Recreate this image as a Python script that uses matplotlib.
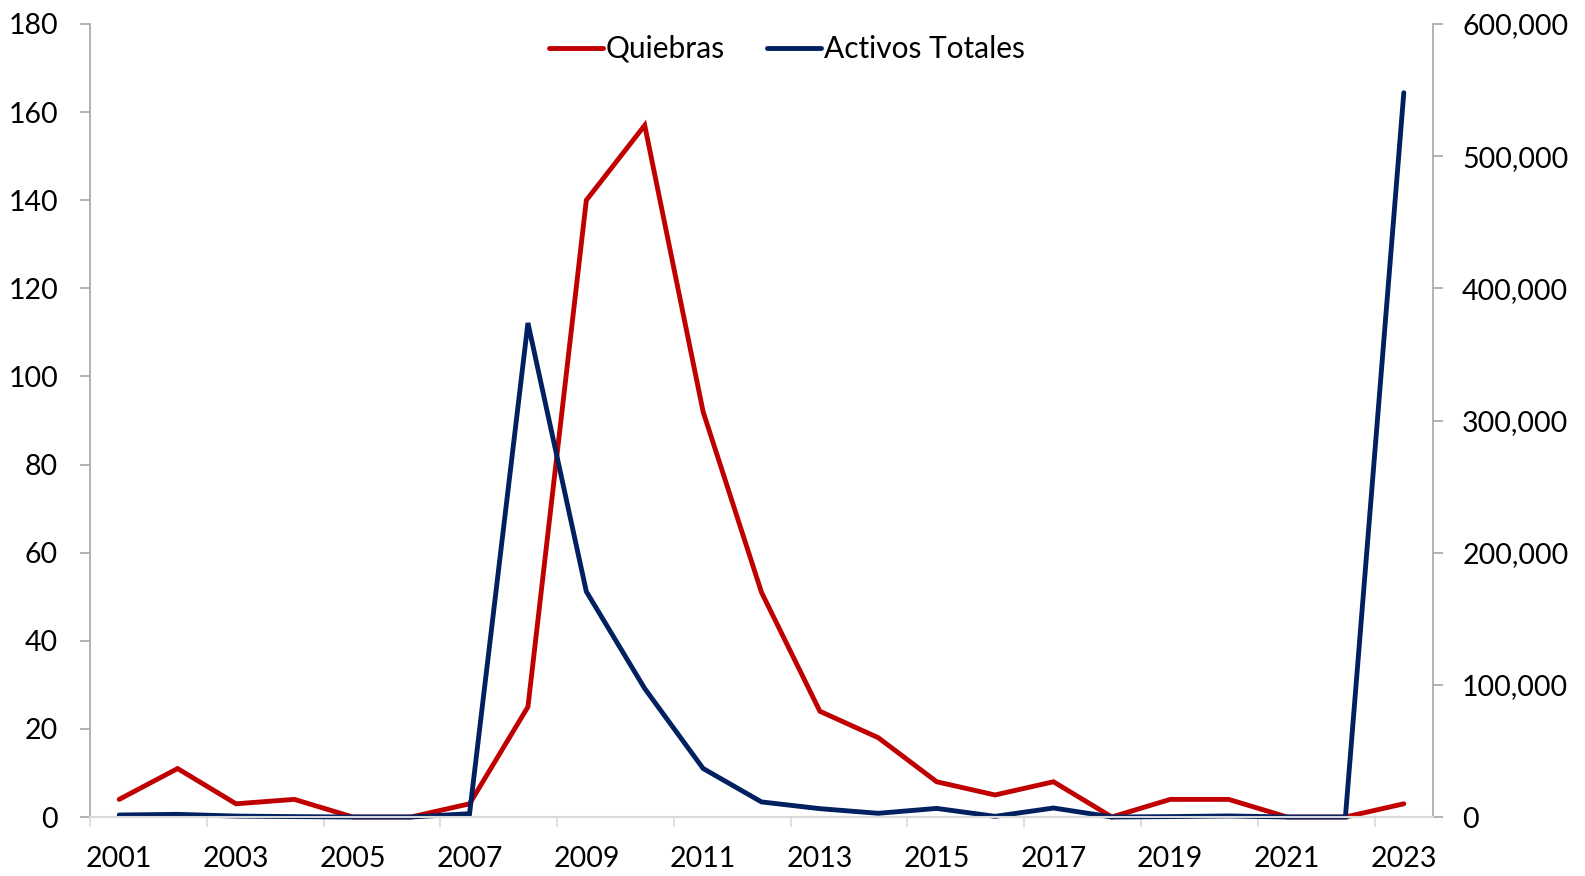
import matplotlib.pyplot as plt
from matplotlib.ticker import FuncFormatter, FixedLocator

plt.rcParams['font.family'] = ['Lato', 'DejaVu Sans']

# data
years = [2001, 2002, 2003, 2004, 2005, 2006, 2007, 2008, 2009, 2010, 2011, 2012,
         2013, 2014, 2015, 2016, 2017, 2018, 2019, 2020, 2021, 2022, 2023]
quiebras = [4, 11, 3, 4, 0, 0, 3, 25, 140, 157, 92, 51,
            24, 18, 8, 5, 8, 0, 4, 4, 0, 0, 3]
activos = [1500, 2000, 700, 300, 0, 0, 2500, 373800, 170600, 97200, 36700, 11400,
           6300, 2800, 6500, 500, 6800, 0, 300, 800, 0, 0, 548000]

red = '#C00000'
navy = '#002060'
spine_grey = '#a6a6a6'
axis_grey = '#d9d9d9'

fig = plt.figure(figsize=(15.85, 8.76), dpi=100)
ax = fig.add_axes([90 / 1585, 1 - 817 / 876, (1433 - 90) / 1585, (817 - 24) / 876])
ax2 = ax.twinx()

x = list(range(len(years)))
l1, = ax.plot(x, quiebras, color=red, lw=3.5, solid_capstyle='round',
              solid_joinstyle='miter', clip_on=False, label='Quiebras')
l2, = ax2.plot(x, activos, color=navy, lw=3.5, solid_capstyle='round',
               solid_joinstyle='miter', clip_on=False, label='Activos Totales')

ax.set_xlim(-0.5, len(years) - 0.5)
ax.set_ylim(0, 180)
ax2.set_ylim(0, 600000)
ax.set_yticks(range(0, 181, 20))
ax2.set_yticks(range(0, 600001, 100000))
ax2.yaxis.set_major_formatter(FuncFormatter(lambda v, p: f'{int(v):,}'))

# year labels on every other category, tick marks on the category edges
ax.set_xticks(x[::2])
ax.set_xticklabels([str(y) for y in years[::2]])
ax.xaxis.set_minor_locator(FixedLocator([i - 0.5 for i in range(0, len(years), 2)]))
ax.tick_params(axis='x', which='major', length=0, pad=21, labelsize=20.5)
ax.tick_params(axis='x', which='minor', length=7, width=1.2, color=axis_grey)

ax.tick_params(axis='y', length=7, width=1.2, color=spine_grey, pad=16, labelsize=20.5)
ax2.tick_params(axis='y', length=7, width=1.2, color=spine_grey, pad=14, labelsize=20.5)

for a in (ax, ax2):
    a.spines['top'].set_visible(False)
    a.spines['left'].set_color(spine_grey)
    a.spines['right'].set_color(spine_grey)
    a.spines['bottom'].set_color(axis_grey)
    a.spines['left'].set_linewidth(1.2)
    a.spines['right'].set_linewidth(1.2)
    a.spines['bottom'].set_linewidth(1.5)
ax2.spines['left'].set_visible(False)
ax.spines['right'].set_visible(False)

fig.legend([l1, l2], ['Quiebras', 'Activos Totales'], loc='center',
           bbox_to_anchor=(787 / 1585, 1 - 49 / 876), ncol=2, frameon=False,
           fontsize=21.5, handlelength=1.8, handletextpad=0.1, columnspacing=1.4)

fig.savefig('out.png', dpi=100)
